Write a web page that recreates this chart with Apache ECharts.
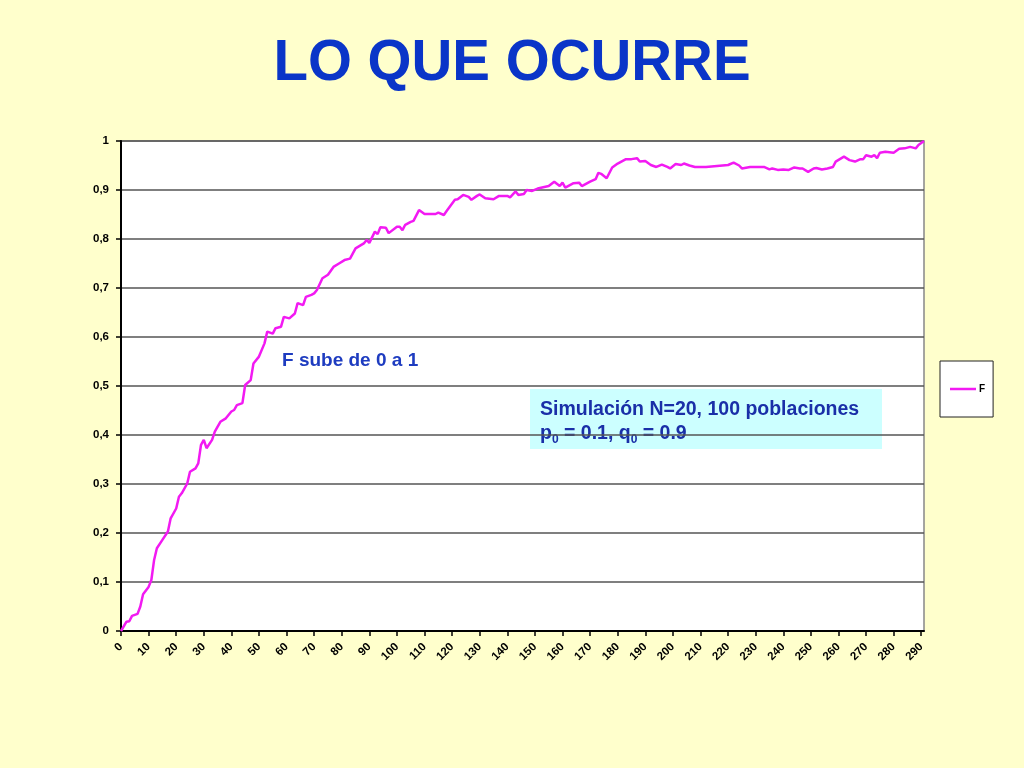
<!DOCTYPE html>
<html>
<head>
<meta charset="UTF-8" />
<title>LO QUE OCURRE</title>
<script type="text/javascript" src="https://cdn.jsdelivr.net/npm/echarts@6/dist/echarts.min.js"></script>
<style>
  html, body { margin: 0; padding: 0; background: #FFFFCC; }
</style>
</head>
<body>
<div id="main" style="width: 1024px;height: 768px;"></div>
<script>
// generation (x) and F value (y)
var gens = [0, 2, 3, 4, 6, 7, 8, 10, 11, 12, 13, 15, 17, 18, 20, 21, 22, 24, 25, 27,
    28, 29, 30, 31, 33, 34, 36, 38, 40, 41, 42, 44, 45, 47, 48, 50, 52, 53, 55, 56,
    58, 59, 61, 63, 64, 66, 67, 69, 70, 71, 73, 75, 77, 79, 81, 83, 85, 88, 89, 90,
    92, 93, 94, 96, 97, 100, 101, 102, 103, 105, 106, 108, 110, 114, 115, 117, 118, 121, 122, 124,
    126, 127, 129, 130, 132, 135, 137, 140, 141, 143, 144, 146, 147, 149, 151, 155, 157, 159, 160, 161,
    164, 166, 167, 170, 172, 173, 174, 176, 178, 180, 181, 183, 185, 187, 188, 190, 192, 194, 196, 198,
    199, 201, 203, 204, 206, 208, 212, 216, 220, 222, 224, 225, 228, 230, 233, 235, 236, 238, 240, 242,
    244, 246, 247, 249, 251, 252, 254, 256, 258, 259, 262, 264, 266, 268, 269, 270, 272, 273, 274, 275,
    277, 280, 282, 284, 286, 288, 289, 291];
var fValues = [0, 0.019, 0.02, 0.031, 0.035, 0.05, 0.075, 0.09, 0.104, 0.145, 0.169, 0.186, 0.203, 0.23, 0.25, 0.274, 0.281, 0.301, 0.325, 0.332,
    0.342, 0.38, 0.39, 0.373, 0.39, 0.407, 0.427, 0.434, 0.448, 0.451, 0.461, 0.465, 0.502, 0.512, 0.546, 0.56, 0.587, 0.611, 0.607, 0.618,
    0.621, 0.641, 0.638, 0.648, 0.669, 0.665, 0.682, 0.686, 0.689, 0.696, 0.72, 0.727, 0.743, 0.75, 0.757, 0.76, 0.781, 0.791, 0.798, 0.792,
    0.815, 0.81, 0.824, 0.823, 0.812, 0.825, 0.825, 0.818, 0.829, 0.835, 0.837, 0.859, 0.851, 0.851, 0.854, 0.849, 0.857, 0.88, 0.881, 0.89,
    0.886, 0.88, 0.888, 0.891, 0.883, 0.881, 0.888, 0.888, 0.885, 0.897, 0.89, 0.892, 0.9, 0.898, 0.903, 0.908, 0.917, 0.908, 0.915, 0.905,
    0.914, 0.915, 0.908, 0.917, 0.922, 0.935, 0.933, 0.924, 0.946, 0.954, 0.957, 0.963, 0.963, 0.965, 0.958, 0.959, 0.951, 0.947, 0.952, 0.947,
    0.944, 0.953, 0.951, 0.954, 0.95, 0.947, 0.947, 0.949, 0.951, 0.956, 0.95, 0.944, 0.947, 0.947, 0.947, 0.942, 0.944, 0.941, 0.942, 0.941,
    0.946, 0.944, 0.944, 0.937, 0.944, 0.945, 0.942, 0.944, 0.947, 0.958, 0.968, 0.961, 0.958, 0.963, 0.963, 0.971, 0.968, 0.971, 0.965, 0.976,
    0.978, 0.976, 0.984, 0.985, 0.988, 0.985, 0.992, 1.0];

var seriesName = 'F';
var titleText = 'LO QUE OCURRE';
var noteText = 'F sube de 0 a 1';

var points = gens.map(function (g, i) { return [g, fValues[i]]; });

var chart = echarts.init(document.getElementById('main'));

var option = {
    backgroundColor: '#FFFFCC',
    animation: false,
    textStyle: { fontFamily: 'Liberation Sans' },
    title: {
        text: titleText,
        left: 'center',
        top: 31,
        textStyle: { fontSize: 56.5, fontWeight: 'bold', color: '#0A35C8', fontFamily: 'Liberation Sans' }
    },
    grid: {
        left: 121, right: 100, top: 141, bottom: 137,
        show: true, backgroundColor: '#fff', borderColor: '#888', borderWidth: 1.5
    },
    legend: {
        data: [seriesName],
        left: 940, top: 361,
        orient: 'vertical',
        icon: 'rect',
        backgroundColor: '#fff',
        borderColor: '#222',
        borderWidth: 1,
        borderRadius: 0,
        padding: [23, 8, 23, 10],
        itemWidth: 26,
        itemHeight: 2.5,
        itemGap: 4,
        textStyle: { fontSize: 10, fontWeight: 'bold', color: '#000', padding: [0, 0, 0, -2] }
    },
    xAxis: {
        type: 'value',
        min: 0, max: 291, interval: 10,
        axisLine: { onZero: false, lineStyle: { color: '#000', width: 2 } },
        axisTick: { inside: false, length: 5, lineStyle: { color: '#000', width: 1.5 } },
        splitLine: { show: false },
        axisLabel: {
            rotate: 45, margin: 14, showMaxLabel: false,
            fontSize: 11.5, fontWeight: 'bold', color: '#000'
        }
    },
    yAxis: {
        type: 'value',
        min: 0, max: 1, interval: 0.1,
        axisLine: { show: true, lineStyle: { color: '#000', width: 2 } },
        axisTick: { show: true, length: 5, lineStyle: { color: '#000', width: 1.5 } },
        splitLine: { lineStyle: { color: '#555', width: 1.5 } },
        axisLabel: {
            margin: 12, fontSize: 11.5, fontWeight: 'bold', color: '#000',
            formatter: function (v) { return String(Math.round(v * 10) / 10).replace('.', ','); }
        }
    },
    graphic: [
        {
            type: 'text', left: 282, top: 351,
            style: { text: noteText, fontSize: 19, fontWeight: 'bold', fill: '#1E3CC0', fontFamily: 'Liberation Sans' }
        },
        {
            type: 'rect', left: 530, top: 389, shape: { width: 352, height: 60 },
            style: { fill: '#CCFFFF' }
        },
        {
            type: 'text', left: 540, top: 400,
            style: {
                text: '{t|Simulación N=20, 100 poblaciones}\n{t|p}{s|0}{t| = 0.1, q}{s|0}{t| = 0.9}',
                fontFamily: 'Liberation Sans',
                rich: {
                    t: { fontSize: 19.5, fontWeight: 'bold', fill: '#1A2FA8', lineHeight: 24 },
                    s: { fontSize: 12, fontWeight: 'bold', fill: '#1A2FA8', lineHeight: 24, verticalAlign: 'bottom', padding: [9, 0, 0, 0] }
                }
            }
        }
    ],
    series: [{
        name: seriesName,
        type: 'line',
        data: points,
        showSymbol: false,
        symbol: 'none',
        lineStyle: { color: '#F21AF2', width: 2.5 },
        itemStyle: { color: '#F21AF2' }
    }]
};

chart.setOption(option);
</script>
</body>
</html>
